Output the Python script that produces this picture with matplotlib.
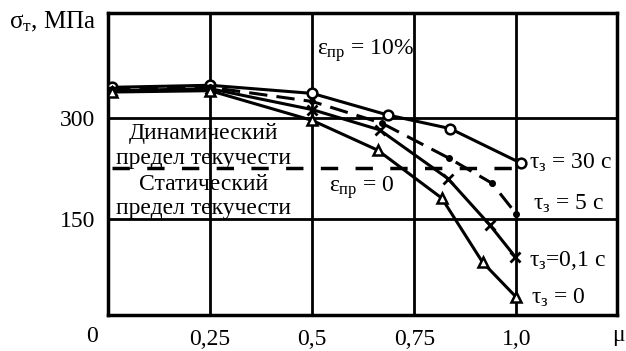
import matplotlib
matplotlib.use("Agg")
import matplotlib.pyplot as plt

plt.rcParams['font.family'] = ['Liberation Serif', 'DejaVu Serif']
plt.rcParams['mathtext.fontset'] = 'custom'
plt.rcParams['mathtext.rm'] = 'Liberation Serif'
plt.rcParams['mathtext.it'] = 'Liberation Serif'
plt.rcParams['mathtext.bf'] = 'Liberation Serif'

# данные
mu_30 = [0.01, 0.25, 0.5, 0.685, 0.837, 1.01]
sig_30 = [345, 348, 336, 304, 284, 233]

mu_5 = [0.01, 0.25, 0.5, 0.67, 0.835, 0.94, 1.0]
sig_5 = [343, 345, 324, 292, 240, 203, 157]

mu_01 = [0.01, 0.25, 0.5, 0.665, 0.832, 0.935, 0.997]
sig_01 = [340, 343, 312, 282, 210, 141, 94]

mu_0 = [0.01, 0.25, 0.5, 0.66, 0.817, 0.917, 1.0]
sig_0 = [338, 340, 296, 252, 181, 86, 34]

static_level = 226
xticks = [0.25, 0.5, 0.75, 1.0]
xlabels = ['0,25', '0,5', '0,75', '1,0']
yticks = [150, 300]
ylabels = ['150', '300']

fig = plt.figure(figsize=(6.26, 3.51), dpi=100)
ax = fig.add_axes([0.1725, 0.1026, 0.8131, 0.8604])
ax.set_xlim(0, 1.246)
ax.set_ylim(8, 455)

# сетка
for x in xticks:
    ax.axvline(x, color='black', lw=2.0, zorder=1)
for y in yticks:
    ax.axhline(y, color='black', lw=2.0, zorder=1)
for s in ax.spines.values():
    s.set_linewidth(2.5)

# кривые
ax.plot(mu_30, sig_30, '-', color='black', lw=2.2, marker='o', ms=7,
        mfc='white', mew=1.8, zorder=3)
ax.plot(mu_5, sig_5, '--', color='black', lw=2.2, dashes=(6, 3), marker='o',
        ms=4, mfc='black', zorder=3)
ax.plot(mu_01, sig_01, '-', color='black', lw=2.2, marker='x', ms=7,
        mew=2.0, zorder=3)
ax.plot(mu_0, sig_0, '-', color='black', lw=2.2, marker='^', ms=7,
        mfc='white', mew=1.8, zorder=3)

# статический предел
ax.plot([0.01, 1.0], [static_level, static_level], color='black', lw=2.5,
        dashes=(5, 5), zorder=2)

ax.set_xticks(xticks)
ax.set_xticklabels(xlabels)
ax.set_yticks(yticks)
ax.set_yticklabels(ylabels)
ax.tick_params(length=0, labelsize=17)
ax.tick_params(axis='y', pad=9)
ax.tick_params(axis='x', pad=10)

fs = 17
ax.text(-0.02, -0.07, '0', transform=ax.transAxes, ha='right', va='center', fontsize=fs)
fig.text(0.998, 0.045, 'μ', ha='right', va='center', fontsize=fs)
fig.text(0.015, 0.937, r'$σ_{т}$, МПа', ha='left', va='center', fontsize=18)

ax.text(0.512, 400, r'$ε_{пр}$ = 10%', ha='left', va='center', fontsize=fs)
ax.text(0.542, 196, r'$ε_{пр}$ = 0', ha='left', va='center', fontsize=fs)

ax.text(0.235, 276, 'Динамический', ha='center', va='center', fontsize=fs)
ax.text(0.235, 239, 'предел текучести', ha='center', va='center', fontsize=fs)
ax.text(0.235, 201, 'Статический', ha='center', va='center', fontsize=fs)
ax.text(0.235, 165, 'предел текучести', ha='center', va='center', fontsize=fs)

ax.text(1.03, 233, r'$τ_{з}$ = 30 c', ha='left', va='center', fontsize=fs)
ax.text(1.04, 173, r'$τ_{з}$ = 5 c', ha='left', va='center', fontsize=fs)
ax.text(1.03, 88, r'$τ_{з}$=0,1 c', ha='left', va='center', fontsize=fs)
ax.text(1.035, 33, r'$τ_{з}$ = 0', ha='left', va='center', fontsize=fs)

fig.savefig('out.png', dpi=100)
